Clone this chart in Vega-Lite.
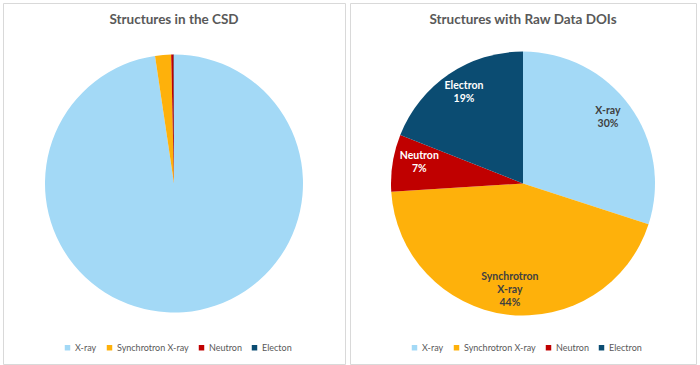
{
  "$schema": "https://vega.github.io/schema/vega-lite/v6.json",
  "padding": {"left": 2, "top": 2, "right": 0, "bottom": 0},
  "autosize": {"type": "pad"},
  "spacing": 3,
  "background": "white",
  "config": {
    "view": {"stroke": "#d9d9d9", "strokeWidth": 1},
    "font": "Lato",
    "title": {"font": "Lato", "fontSize": 13.5, "fontWeight": "bold", "color": "#595959", "offset": -23, "anchor": "middle"},
    "legend": {"labelFont": "Lato", "labelFontSize": 9, "labelColor": "#595959", "symbolType": "square", "symbolSize": 30, "symbolStrokeWidth": 0, "columnPadding": 8, "labelOffset": 3, "padding": 0}
  },
  "resolve": {"scale": {"color": "independent"}},
  "hconcat": [
    {
      "width": 342,
      "height": 361,
      "view": {"stroke": "#d9d9d9", "strokeWidth": 1, "fill": "white"},
      "title": {"text": "Structures in the CSD"},
      "data": {"values": [
        {"category": "X-ray", "share": 97.6, "ord": 1},
        {"category": "Synchrotron X-ray", "share": 2.0, "ord": 2},
        {"category": "Neutron", "share": 0.3, "ord": 3},
        {"category": "Electon", "share": 0.05, "ord": 4}
      ]},
      "mark": {"type": "arc", "outerRadius": 129},
      "encoding": {
        "theta": {"field": "share", "type": "quantitative", "stack": true},
        "order": {"field": "ord", "type": "quantitative"},
        "color": {
          "field": "category", "type": "nominal",
          "scale": {"domain": ["X-ray", "Synchrotron X-ray", "Neutron", "Electon"], "range": ["#a3d9f6", "#feb10b", "#c00000", "#0b4c72"]},
          "legend": {"title": null, "orient": "none", "legendX": 60, "legendY": 340, "direction": "horizontal"}
        }
      }
    },
    {
      "width": 346,
      "height": 361,
      "view": {"stroke": "#d9d9d9", "strokeWidth": 1, "fill": "white"},
      "title": {"text": "Structures with Raw Data DOIs"},
      "data": {"values": [
        {"category": "X-ray", "share": 30, "ord": 1, "label": "X-ray\n30%"},
        {"category": "Synchrotron X-ray", "share": 44, "ord": 2, "label": "Synchrotron\nX-ray\n44%"},
        {"category": "Neutron", "share": 7, "ord": 3, "label": "Neutron\n7%"},
        {"category": "Electron", "share": 19, "ord": 4, "label": "Electron\n19%"}
      ]},
      "encoding": {
        "theta": {"field": "share", "type": "quantitative", "stack": true},
        "order": {"field": "ord", "type": "quantitative"}
      },
      "layer": [
        {
          "mark": {"type": "arc", "outerRadius": 132},
          "encoding": {
            "color": {
              "field": "category", "type": "nominal",
              "scale": {"domain": ["X-ray", "Synchrotron X-ray", "Neutron", "Electron"], "range": ["#a3d9f6", "#feb10b", "#c00000", "#0b4c72"]},
              "legend": {"title": null, "orient": "none", "legendX": 60, "legendY": 340, "direction": "horizontal"}
            }
          }
        },
        {
          "mark": {"type": "text", "radius": 105, "dy": -11, "lineBreak": "\n", "fontWeight": "bold", "fontSize": 10.5, "lineHeight": 13, "font": "Lato"},
          "encoding": {
            "text": {"field": "label"},
            "color": {"condition": {"test": "datum.category === 'Neutron' || datum.category === 'Electron'", "value": "white"}, "value": "#404040"}
          }
        }
      ]
    }
  ]
}
